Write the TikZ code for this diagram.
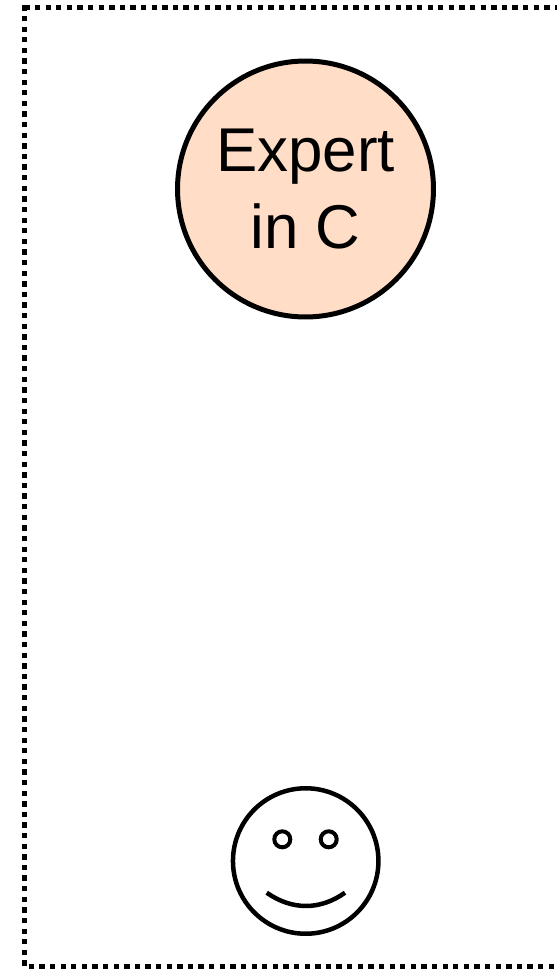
\documentclass[tikz,border=0pt]{standalone}
\usepackage{fontspec}
\setmainfont{Liberation Sans}
\usepackage{xcolor}
\definecolor{expertfill}{RGB}{255,221,199}
\tikzset{
    topicnode/.style={circle, draw=black, line width=5*0.02cm, fill=expertfill, minimum size=5.12cm, inner sep=0pt, align=center, font=\fontsize{35.2}{43.8}\selectfont},
    facenode/.style={circle, draw=black, line width=4.5*0.02cm, minimum size=2.91cm, inner sep=0pt},
    eyenode/.style={circle, draw=black, line width=4*0.02cm, minimum size=0.32cm, inner sep=0pt},
    regionline/.style={draw=black, line width=5*0.02cm, dash pattern=on 3.02pt off 3.02pt}
}

\begin{document}
\begin{tikzpicture}[x=0.02cm,y=-0.02cm]
                \useasboundingbox (0,0) rectangle (557,969);
                \draw[regionline](24.3,7.5) -- (557,7.5);
                \draw[regionline](24.2,5.3) -- (24.2,966.5) -- (557,966.5);
                \node[topicnode] (expert) at (305.5,189) {Expert\\in C};
                \node[facenode] (face) at (305.7,861) {};
                \node[eyenode] (lefteye) at (282.3,839.3) {};
                \node[eyenode] (righteye) at (328.7,839.3) {};
                \draw[black, line width=4.5*0.02cm](266.7,892.7) .. controls (292,910.4) and (320,910.4) .. (345,892.7);
            \end{tikzpicture}
\end{document}
